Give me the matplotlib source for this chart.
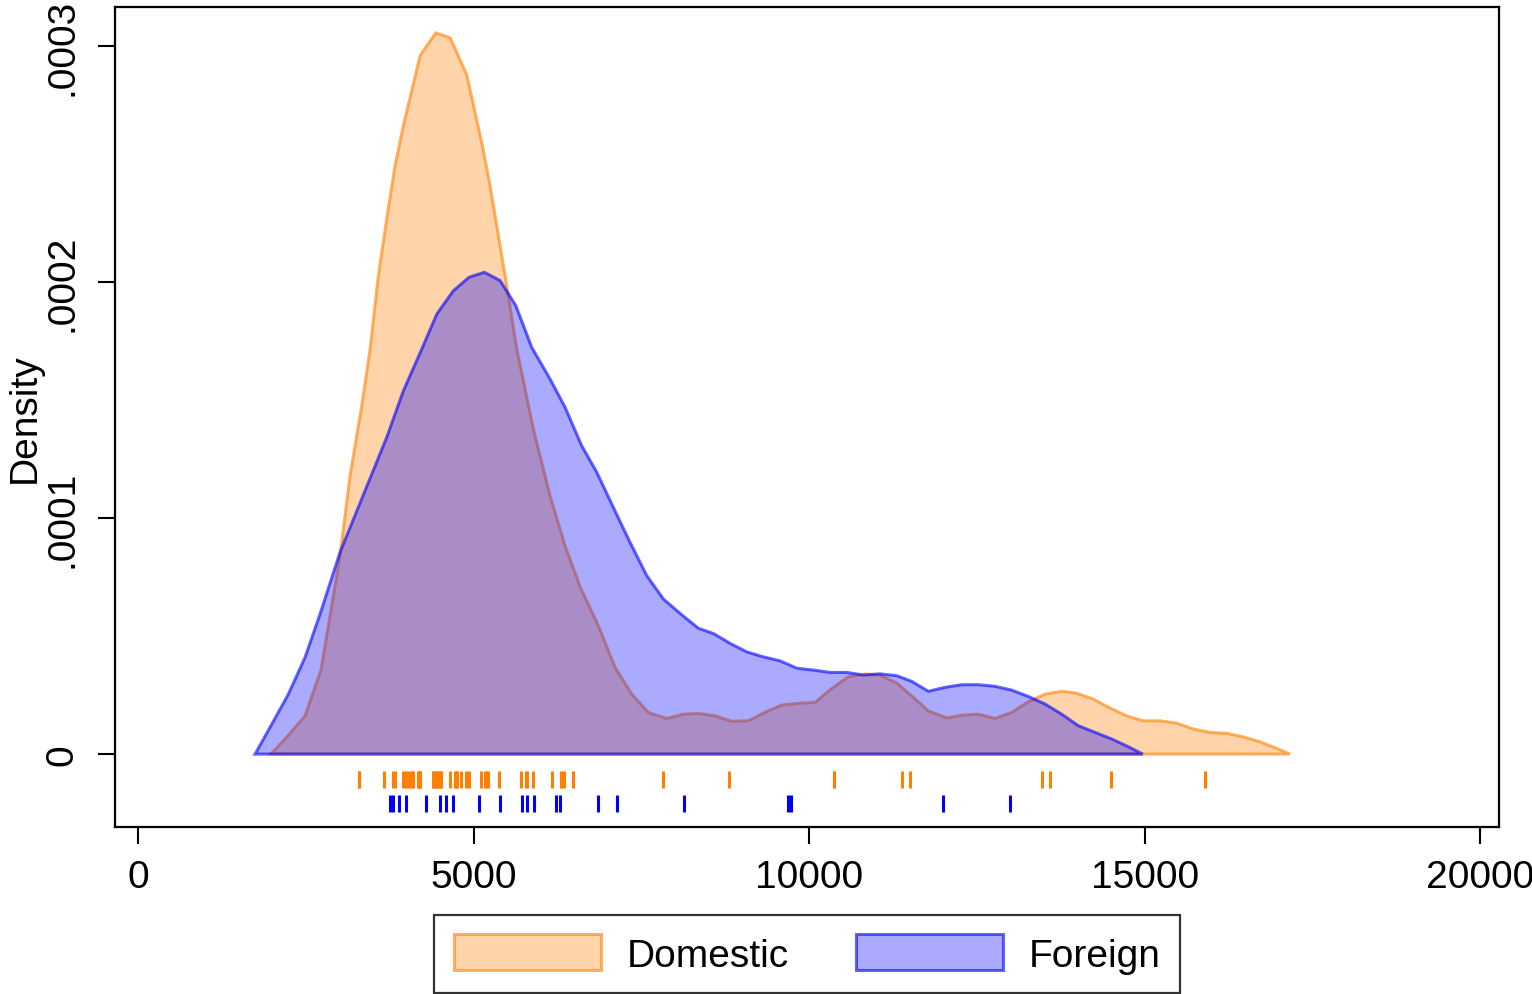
import matplotlib
matplotlib.use("Agg")
import matplotlib.pyplot as plt
from matplotlib.patches import Patch

plt.rcParams['font.family'] = ['Liberation Sans', 'DejaVu Sans']

# car prices (1978 auto data), split by origin
domestic_price = [4099, 4749, 3799, 4816, 7827, 5788, 4453, 5189, 10372, 4082,
                  11385, 14500, 15906, 3299, 5705, 4504, 5104, 3667, 3955, 3984,
                  4010, 5886, 6342, 4389, 4187, 11497, 13594, 13466, 3829, 5379,
                  6165, 4516, 6303, 3291, 8814, 5172, 4733, 4890, 4181, 4195,
                  10371, 4647, 4425, 4482, 6486, 4060, 5798, 4934, 5222, 4723,
                  4424, 4172]
foreign_price = [9690, 6295, 9735, 6229, 4589, 5079, 8129, 5799, 4499, 3995,
                 12990, 3895, 3798, 5899, 3748, 5719, 7140, 5397, 4697, 6850,
                 11995, 4296]

# kernel density estimates (density in units of 1e-4)
dom_x = [1978, 2225, 2489, 2727, 3010, 3159, 3334, 3458, 3581, 3706, 3830, 3954,
         4203, 4437, 4654, 4899, 5131, 5246, 5495, 5644, 5891, 6140, 6364, 6602,
         6860, 7109, 7358, 7605, 7879, 8127, 8350, 8599, 8848, 9095, 9344, 9593,
         9840, 10089, 10323, 10586, 10835, 11058, 11307, 11545, 11778, 12052,
         12276, 12523, 12772, 13021, 13268, 13517, 13766, 13990, 14237, 14486,
         14734, 14982, 15231, 15480, 15727, 15976, 16225, 16472, 16721, 16970,
         17168]
dom_d = [0.0, 0.075, 0.162, 0.357, 0.840, 1.179, 1.476, 1.716, 2.027, 2.267,
         2.493, 2.662, 2.959, 3.055, 3.034, 2.877, 2.578, 2.408, 1.984, 1.716,
         1.377, 1.094, 0.882, 0.699, 0.544, 0.367, 0.254, 0.176, 0.151, 0.169,
         0.172, 0.162, 0.139, 0.141, 0.177, 0.208, 0.215, 0.219, 0.275, 0.328,
         0.339, 0.335, 0.301, 0.243, 0.183, 0.153, 0.165, 0.169, 0.151, 0.177,
         0.222, 0.254, 0.266, 0.258, 0.233, 0.195, 0.162, 0.141, 0.141, 0.131,
         0.106, 0.092, 0.088, 0.073, 0.052, 0.024, 0.0]

for_x = [1744, 1993, 2240, 2489, 2712, 3010, 3706, 3954, 4228, 4452, 4699,
         4933, 5161, 5395, 5629, 5867, 6140, 6364, 6612, 6836, 7083, 7332, 7581,
         7829, 8077, 8350, 8573, 8823, 9071, 9319, 9568, 9817, 10064, 10313,
         10562, 10809, 11058, 11307, 11530, 11778, 12027, 12276, 12523, 12772,
         13021, 13268, 13517, 13766, 14014, 14262, 14511, 14759, 14973]
for_d = [0.0, 0.127, 0.254, 0.410, 0.593, 0.855, 1.342, 1.539, 1.716,
         1.864, 1.963, 2.020, 2.041, 2.006, 1.900, 1.723, 1.589, 1.469, 1.306,
         1.194, 1.045, 0.897, 0.756, 0.657, 0.596, 0.533, 0.511, 0.469, 0.433,
         0.412, 0.395, 0.364, 0.356, 0.346, 0.346, 0.335, 0.340, 0.332, 0.308,
         0.266, 0.283, 0.294, 0.294, 0.287, 0.271, 0.244, 0.212, 0.169, 0.120,
         0.092, 0.064, 0.031, 0.0]

x_ticks = [0, 5000, 10000, 15000, 20000]
y_ticks = [0, 1e-4, 2e-4, 3e-4]
y_tick_labels = ['0', '.0001', '.0002', '.0003']
series_names = ['Domestic', 'Foreign']

orange = (1.0, 0.5, 0.0)
blue = (0.0, 0.0, 1.0)
fill_a = 1 / 3
line_a = 0.6

fig = plt.figure(figsize=(15.32, 9.95), dpi=100)
ax = fig.add_axes([0.0751, 0.1678, 0.9034, 0.8242])

ax.fill(dom_x, [d * 1e-4 for d in dom_d],
        facecolor=orange + (fill_a,), edgecolor=orange + (line_a,), linewidth=2.2)
ax.fill(for_x, [d * 1e-4 for d in for_d],
        facecolor=blue + (fill_a,), edgecolor=blue + (line_a,), linewidth=2.2)

# rug of individual prices under the curves
ax.vlines(domestic_price, -0.144e-4, -0.072e-4, color=orange, linewidth=2.2)
ax.vlines(foreign_price, -0.246e-4, -0.174e-4, color=blue, linewidth=2.2)

ax.set_xlim(-343, 20283)
ax.set_ylim(-0.309e-4, 3.165e-4)

ax.set_xticks(x_ticks)
ax.set_xticklabels([str(t) for t in x_ticks])
ax.set_yticks(y_ticks)
ax.set_yticklabels(y_tick_labels, rotation=90, va='center')
ax.tick_params(axis='both', labelsize=28, length=12, width=1.5, color='black')
ax.tick_params(axis='x', pad=11)
ax.tick_params(axis='y', pad=13)
for s in ax.spines.values():
    s.set_linewidth(1.6)
    s.set_color('black')

ax.set_ylabel('Density', fontsize=28)
ax.yaxis.set_label_coords(-0.052, 0.5)

handles = [
    Patch(facecolor=orange + (fill_a,), edgecolor=orange + (line_a,), linewidth=2.2),
    Patch(facecolor=blue + (fill_a,), edgecolor=blue + (line_a,), linewidth=2.2),
]
leg = fig.legend(handles, series_names, loc='center', bbox_to_anchor=(0.527, 0.0402),
                 ncol=2, fontsize=28, frameon=True, fancybox=False, edgecolor='black',
                 handlelength=3.78, handleheight=1.05, handletextpad=0.67,
                 columnspacing=1.72, borderpad=0.5, borderaxespad=0)
leg.get_frame().set_linewidth(1.6)

fig.savefig('out.png', dpi=100)
